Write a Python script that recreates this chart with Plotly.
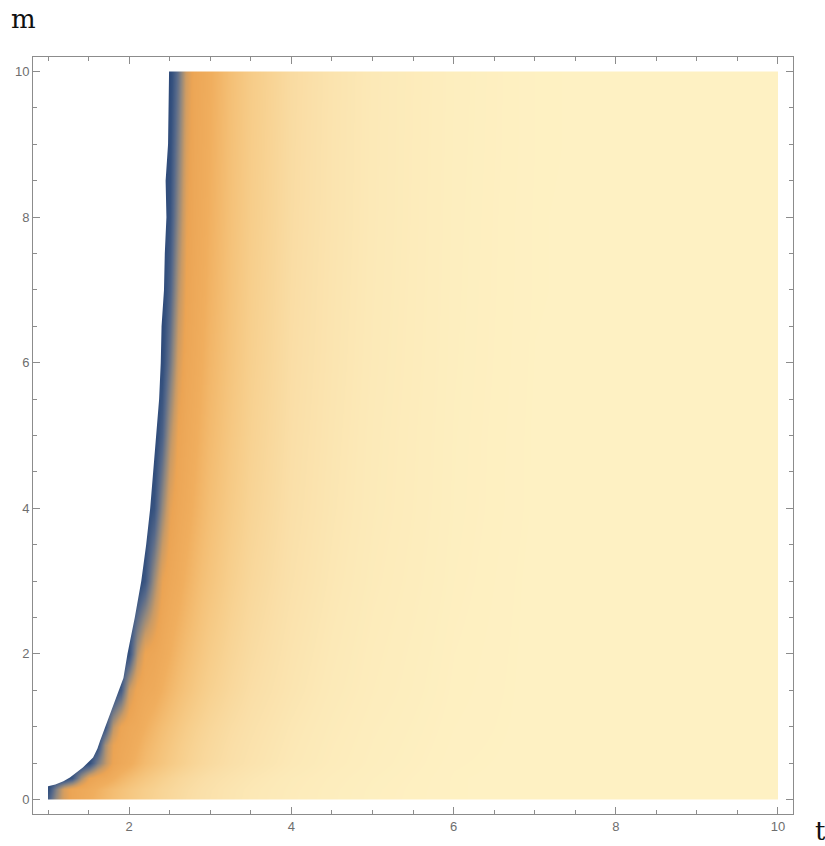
import plotly.graph_objects as go

# Grid of the density field: t along x, m along y
t_cols = [1.0, 1.1, 1.2, 1.3, 1.4, 1.5, 1.6, 1.7, 1.8, 1.9, 2.0, 2.1, 2.2, 2.3, 2.4,
          2.5, 2.6, 2.7, 2.8, 2.9, 3.0, 3.25, 3.5, 4.0, 4.5, 5.0, 6.0, 7.0, 8.0, 10.0]
m_rows = [0.0, 0.15, 0.3, 0.5, 0.75, 1.0, 1.5, 2.0, 3.0, 4.0, 5.0, 6.0, 7.0, 8.0, 9.0, 10.0]

# Field values (0 = low / dark blue, 1 = high / pale yellow), one list per m row
z_m00 = [0.10, 0.26, 0.38, 0.45, 0.50, 0.54, 0.58, 0.615, 0.65, 0.68, 0.705, 0.73, 0.752, 0.772, 0.79,
         0.805, 0.82, 0.835, 0.847, 0.858, 0.868, 0.892, 0.912, 0.942, 0.963, 0.979, 0.996, 1, 1, 1]
z_m015 = [0.04, 0.22, 0.38, 0.45, 0.49, 0.52, 0.56, 0.60, 0.635, 0.665, 0.695, 0.72, 0.745, 0.765, 0.785,
          0.80, 0.815, 0.83, 0.842, 0.855, 0.865, 0.89, 0.91, 0.94, 0.962, 0.978, 0.996, 1, 1, 1]
z_m03 = [0, 0, 0, 0.08, 0.28, 0.42, 0.47, 0.50, 0.545, 0.595, 0.635, 0.67, 0.70, 0.73, 0.755,
         0.777, 0.797, 0.812, 0.827, 0.84, 0.852, 0.878, 0.90, 0.935, 0.958, 0.975, 0.996, 1, 1, 1]
z_m05 = [0, 0, 0, 0, 0, 0.04, 0.20, 0.32, 0.44, 0.49, 0.53, 0.58, 0.625, 0.66, 0.69,
         0.72, 0.745, 0.768, 0.788, 0.805, 0.82, 0.852, 0.877, 0.918, 0.948, 0.969, 0.994, 1, 1, 1]
z_m075 = [0, 0, 0, 0, 0, 0, 0.03, 0.28, 0.42, 0.47, 0.50, 0.545, 0.595, 0.635, 0.67,
          0.70, 0.73, 0.755, 0.775, 0.795, 0.81, 0.845, 0.87, 0.912, 0.944, 0.966, 0.992, 1, 1, 1]
z_m10 = [0, 0, 0, 0, 0, 0, 0, 0.07, 0.32, 0.44, 0.485, 0.508, 0.555, 0.603, 0.643,
         0.676, 0.706, 0.735, 0.759, 0.779, 0.798, 0.835, 0.862, 0.906, 0.939, 0.963, 0.99, 1, 1, 1]
z_m15 = [0, 0, 0, 0, 0, 0, 0, 0, 0, 0.10, 0.35, 0.45, 0.49, 0.512, 0.56,
         0.607, 0.647, 0.679, 0.709, 0.737, 0.761, 0.807, 0.843, 0.89, 0.928, 0.955, 0.987, 1, 1, 1]
z_m2 = [0, 0, 0, 0, 0, 0, 0, 0, 0, 0, 0.06, 0.30, 0.44, 0.468, 0.508,
        0.555, 0.603, 0.643, 0.676, 0.706, 0.735, 0.789, 0.828, 0.882, 0.921, 0.951, 0.985, 1, 1, 1]
z_m3 = [0, 0, 0, 0, 0, 0, 0, 0, 0, 0, 0, 0, 0.08, 0.27, 0.42,
        0.48, 0.52, 0.57, 0.615, 0.655, 0.685, 0.755, 0.803, 0.865, 0.908, 0.941, 0.98, 1, 1, 1]
z_m4 = [0, 0, 0, 0, 0, 0, 0, 0, 0, 0, 0, 0, 0, 0.068, 0.25,
        0.41, 0.476, 0.516, 0.565, 0.611, 0.651, 0.727, 0.783, 0.854, 0.899, 0.934, 0.977, 0.998, 1, 1]
z_m5 = [0, 0, 0, 0, 0, 0, 0, 0, 0, 0, 0, 0, 0, 0, 0.116,
        0.306, 0.436, 0.488, 0.53, 0.58, 0.623, 0.706, 0.769, 0.847, 0.894, 0.931, 0.976, 0.998, 1, 1]
z_m6 = [0, 0, 0, 0, 0, 0, 0, 0, 0, 0, 0, 0, 0, 0, 0.032,
        0.19, 0.372, 0.464, 0.504, 0.55, 0.599, 0.688, 0.757, 0.841, 0.889, 0.927, 0.974, 0.997, 1, 1]
z_m7 = [0, 0, 0, 0, 0, 0, 0, 0, 0, 0, 0, 0, 0, 0, 0,
        0.116, 0.306, 0.436, 0.488, 0.53, 0.58, 0.676, 0.748, 0.836, 0.886, 0.924, 0.973, 0.996, 1, 1]
z_m8 = [0, 0, 0, 0, 0, 0, 0, 0, 0, 0, 0, 0, 0, 0, 0,
        0.068, 0.25, 0.41, 0.476, 0.516, 0.565, 0.667, 0.74, 0.831, 0.883, 0.922, 0.972, 0.996, 1, 1]
z_m9 = [0, 0, 0, 0, 0, 0, 0, 0, 0, 0, 0, 0, 0, 0, 0,
        0.045, 0.21, 0.385, 0.468, 0.508, 0.555, 0.661, 0.735, 0.828, 0.882, 0.921, 0.971, 0.995, 1, 1]
z_m10_top = [0, 0, 0, 0, 0, 0, 0, 0, 0, 0, 0, 0, 0, 0, 0,
             0.02, 0.17, 0.36, 0.46, 0.50, 0.545, 0.655, 0.73, 0.825, 0.88, 0.92, 0.97, 0.995, 1, 1]

z_field = [z_m00, z_m015, z_m03, z_m05, z_m075, z_m10, z_m15, z_m2, z_m3,
           z_m4, z_m5, z_m6, z_m7, z_m8, z_m9, z_m10_top]

# Left edge of the region where the field is defined
edge_m = [0.18, 0.205, 0.25, 0.30, 0.37, 0.44, 0.575, 0.7, 0.8, 0.95, 1.12, 1.25, 1.4, 1.67,
          2.0, 2.5, 3.0, 3.5, 4.0, 5.0, 5.5, 6.0, 6.5, 7.0, 7.5, 8.0, 8.5, 9.0, 9.5, 10.0]
edge_t = [1.0, 1.09, 1.19, 1.27, 1.35, 1.43, 1.556, 1.61, 1.64, 1.69, 1.74, 1.79, 1.84, 1.93,
          1.98, 2.07, 2.15, 2.21, 2.26, 2.33, 2.37, 2.39, 2.40, 2.43, 2.44, 2.46, 2.45, 2.48, 2.49, 2.5]

x_ticks = [2, 4, 6, 8, 10]
y_ticks = [0, 2, 4, 6, 8, 10]

density_scale = [
    [0.00, "#2b4777"],
    [0.06, "#36527f"],
    [0.14, "#56698a"],
    [0.24, "#8d8680"],
    [0.34, "#c89a66"],
    [0.43, "#eba454"],
    [0.55, "#f0ae5e"],
    [0.65, "#f4bf75"],
    [0.75, "#f7cf8d"],
    [0.85, "#fadfa8"],
    [0.92, "#fce9b7"],
    [1.00, "#fef1c3"],
]

fig = go.Figure()

fig.add_trace(go.Heatmap(
    x=t_cols, y=m_rows, z=z_field,
    zmin=0, zmax=1, zsmooth="best",
    colorscale=density_scale, showscale=False, hoverinfo="skip",
))

# White mask: undefined region left of the edge, plus everything outside [1,10]x[0,10]
mask_x = [0.6] + edge_t + [edge_t[-1], 0.6, None,
          0.6, 1.0, 1.0, 0.6, 0.6, None,
          10.0, 10.6, 10.6, 10.0, 10.0, None,
          0.6, 10.6, 10.6, 0.6, 0.6, None,
          0.6, 10.6, 10.6, 0.6, 0.6]
mask_y = [edge_m[0]] + edge_m + [10.6, 10.6, None,
          -0.6, -0.6, 10.6, 10.6, -0.6, None,
          -0.6, -0.6, 10.6, 10.6, -0.6, None,
          -0.6, -0.6, 0.0, 0.0, -0.6, None,
          10.0, 10.0, 10.6, 10.6, 10.0]
fig.add_trace(go.Scatter(
    x=mask_x, y=mask_y, mode="lines", fill="toself",
    fillcolor="white", line=dict(width=0, color="white"),
    hoverinfo="skip", showlegend=False,
))

axis_common = dict(
    showgrid=False, zeroline=False,
    showline=True, linecolor="#8c8c8c", linewidth=1, mirror="ticks",
    ticks="inside", ticklen=7, tickwidth=1, tickcolor="#8c8c8c",
    tickfont=dict(family="Liberation Sans, Arial, sans-serif", size=13, color="#6e6e6e"),
    minor=dict(dtick=0.5, tick0=0, ticks="inside", ticklen=4, tickcolor="#8c8c8c", showgrid=False),
)

fig.update_xaxes(range=[0.815, 10.185], tickvals=x_ticks, ticktext=[str(v) for v in x_ticks],
                 **axis_common)
fig.update_yaxes(range=[-0.2, 10.2], tickvals=y_ticks, ticktext=[str(v) for v in y_ticks],
                 **axis_common)

fig.add_annotation(text="m", xref="paper", yref="paper", x=-0.031, y=1.05,
                   xanchor="left", yanchor="middle", showarrow=False,
                   font=dict(family="DejaVu Serif, serif", size=26, color="#111111"))
fig.add_annotation(text="t", xref="paper", yref="paper", x=1.026, y=-0.022,
                   xanchor="left", yanchor="middle", showarrow=False,
                   font=dict(family="DejaVu Serif, serif", size=26, color="#111111"))

fig.update_layout(
    width=825, height=846,
    margin=dict(l=33, r=32, t=57, b=30),
    paper_bgcolor="white", plot_bgcolor="white",
    showlegend=False,
)

fig.write_html("out.html")
